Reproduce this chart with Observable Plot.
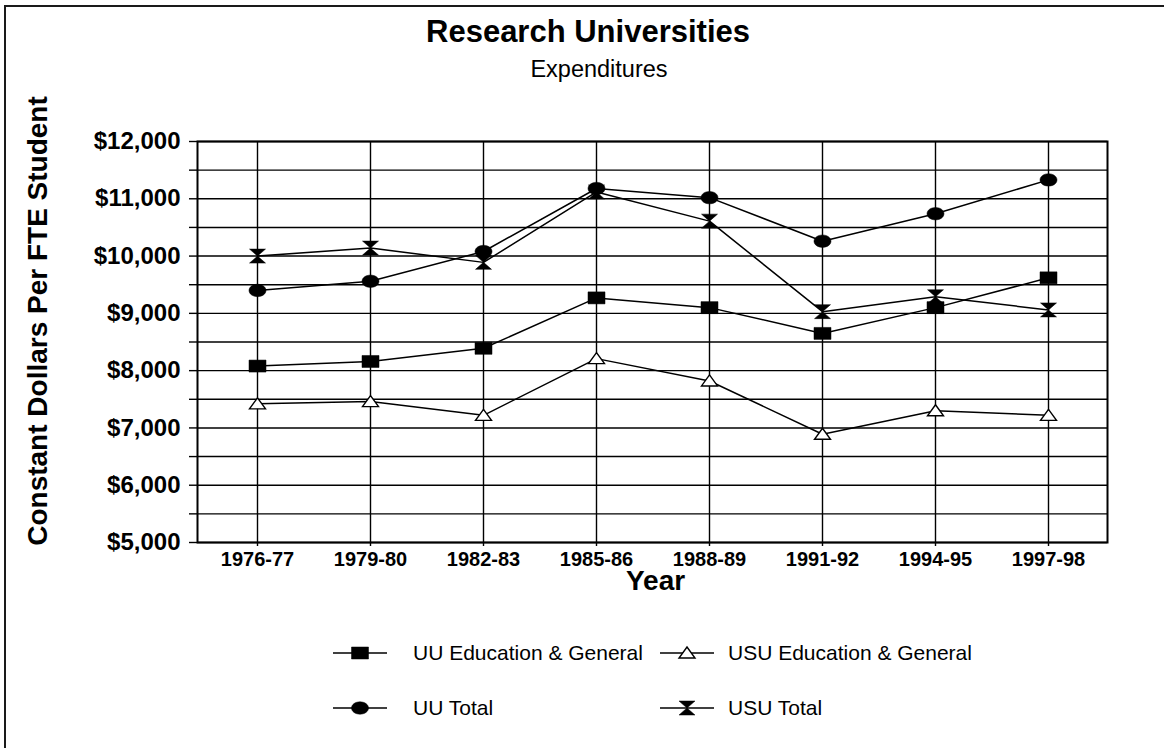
<!DOCTYPE html>
<html><head><meta charset="utf-8">
<script src="https://cdn.jsdelivr.net/npm/d3@7"></script>
<script src="https://cdn.jsdelivr.net/npm/@observablehq/plot@0.6"></script>
<style>
body{margin:0;background:#fff;font-family:"Liberation Sans",Arial,sans-serif;color:#000;}
#wrap{position:relative;width:1164px;height:748px;overflow:hidden;background:#fff;}
#border{position:absolute;left:4px;top:5px;width:1200px;height:800px;border-left:2px solid #1a1a1a;border-top:2px solid #1a1a1a;}
#title{position:absolute;top:16px;left:588px;transform:translateX(-50%);font-size:31px;line-height:31px;font-weight:bold;white-space:nowrap;}
#subtitle{position:absolute;top:58px;left:599px;transform:translateX(-50%);font-size:23.5px;line-height:23.5px;white-space:nowrap;}
#chart{position:absolute;left:0;top:100px;}
.lg{position:absolute;display:flex;align-items:center;height:30px;font-size:21px;white-space:nowrap;}
.lg svg{display:block;}
</style></head><body>
<div id="wrap">
  <div id="border"></div>
  <div id="title">Research Universities</div>
  <div id="subtitle">Expenditures</div>
  <div id="chart"></div>
  <div id="legend"></div>
</div>
<script>
// ---- data ----
const years = ["1976-77","1979-80","1982-83","1985-86","1988-89","1991-92","1994-95","1997-98"];
const uuEG     = [8080, 8160, 8390, 9270, 9100, 8650, 9100, 9620];
const usuEG    = [7420, 7460, 7220, 8210, 7820, 6890, 7300, 7220];
const uuTotal  = [9400, 9560, 10080, 11180, 11020, 10260, 10740, 11330];
const usuTotal = [10000, 10140, 9890, 11120, 10610, 9030, 9290, 9060];
const seriesNames = ["UU Education & General","USU Education & General","UU Total","USU Total"];
const yTickValues = [5000,5500,6000,6500,7000,7500,8000,8500,9000,9500,10000,10500,11000,11500,12000];

// ---- custom marker shapes ----
const squareSym = {draw(ctx){ ctx.rect(-8.5,-6,17,12); }};
const ellipseSym = {draw(ctx){
  const rx=8.5, ry=6.2, kx=rx*0.5523, ky=ry*0.5523;
  ctx.moveTo(rx,0);
  ctx.bezierCurveTo(rx,ky,kx,ry,0,ry);
  ctx.bezierCurveTo(-kx,ry,-rx,ky,-rx,0);
  ctx.bezierCurveTo(-rx,-ky,-kx,-ry,0,-ry);
  ctx.bezierCurveTo(kx,-ry,rx,-ky,rx,0);
  ctx.closePath();
}};
const triSym = {draw(ctx){ ctx.moveTo(0,-6); ctx.lineTo(8,5); ctx.lineTo(-8,5); ctx.closePath(); }};
const hourSym = {draw(ctx){
  ctx.moveTo(-8,-7); ctx.lineTo(8,-7); ctx.lineTo(0,0); ctx.closePath();
  ctx.moveTo(-8,7); ctx.lineTo(8,7); ctx.lineTo(0,0); ctx.closePath();
}};
const seriesValues = [uuEG, usuEG, uuTotal, usuTotal];
const seriesSym = [squareSym, triSym, ellipseSym, hourSym];
const seriesFill = ["#000", "#fff", "#000", "#000"];

const rows = [];
seriesNames.forEach((s, k) => years.forEach((yr, i) => rows.push({year: yr, value: seriesValues[k][i], series: s})));

const font = '"Liberation Sans", Arial, sans-serif';
const fmt = d3.format(",");

const dotMarks = seriesNames.map((s, k) => Plot.dot(rows.filter(d => d.series === s), {
  x: "year", y: "value", symbol: seriesSym[k], r: 5,
  fill: seriesFill[k], stroke: "#000", strokeWidth: k === 1 ? 1.4 : 0.5
}));

const chart = Plot.plot({
  width: 1164, height: 500,
  marginLeft: 197, marginRight: 57, marginTop: 41, marginBottom: 58,
  style: {fontFamily: font, background: "transparent", color: "#000", overflow: "visible"},
  x: {type: "point", domain: years, padding: 0.5, label: null},
  y: {domain: [5000, 12000], label: null},
  marks: [
    Plot.ruleY(yTickValues, {stroke: "#000", strokeWidth: 1.4}),
    Plot.ruleX(years, {stroke: "#000", strokeWidth: 1.4}),
    Plot.frame({stroke: "#000", strokeWidth: 2}),
    Plot.axisY(yTickValues, {
      tickSize: 8, tickPadding: 9, strokeWidth: 1.4,
      tickFormat: d => d % 1000 ? "" : "$" + fmt(d),
      fontSize: 24, fontWeight: "bold", label: null
    }),
    Plot.axisX({tickSize: 4, tickPadding: 5, strokeWidth: 1.4, fontSize: 20, fontWeight: "bold", label: null}),
    Plot.text(["Constant Dollars Per FTE Student"], {
      frameAnchor: "left", textAnchor: "middle", lineAnchor: "middle",
      dx: -159, dy: -21, rotate: -90,
      fontSize: 28, fontWeight: "bold"
    }),
    Plot.text(["Year"], {
      frameAnchor: "bottom", textAnchor: "middle", lineAnchor: "middle",
      dx: 3, dy: 39, fontSize: 28, fontWeight: "bold"
    }),
    Plot.line(rows, {x: "year", y: "value", z: "series", stroke: "#000", strokeWidth: 1.5}),
    ...dotMarks
  ]
});
document.getElementById("chart").appendChild(chart);

// ---- legend ----
const legendPos = [
  {cx: 360, tx: 413, cy: 653},
  {cx: 687, tx: 728, cy: 653},
  {cx: 360, tx: 413, cy: 708},
  {cx: 687, tx: 728, cy: 708}
];
const legend = document.getElementById("legend");
seriesNames.forEach((s, k) => {
  const p = legendPos[k];
  const sw = 60;
  const div = document.createElement("div");
  div.className = "lg";
  div.style.left = (p.cx - sw / 2) + "px";
  div.style.top = (p.cy - 15) + "px";
  const svg = d3.create("svg").attr("width", p.tx - (p.cx - sw / 2)).attr("height", 30);
  svg.append("line").attr("x1", sw / 2 - 27).attr("x2", sw / 2 + 27).attr("y1", 15).attr("y2", 15)
    .attr("stroke", "#000").attr("stroke-width", 1.5);
  svg.append("path").attr("d", d3.symbol(seriesSym[k], 64)())
    .attr("transform", `translate(${sw / 2},15)`)
    .attr("fill", seriesFill[k]).attr("stroke", "#000").attr("stroke-width", k === 1 ? 1.4 : 0.5);
  div.appendChild(svg.node());
  const t = document.createElement("span");
  t.textContent = s;
  div.appendChild(t);
  legend.appendChild(div);
});
</script>
</body></html>
